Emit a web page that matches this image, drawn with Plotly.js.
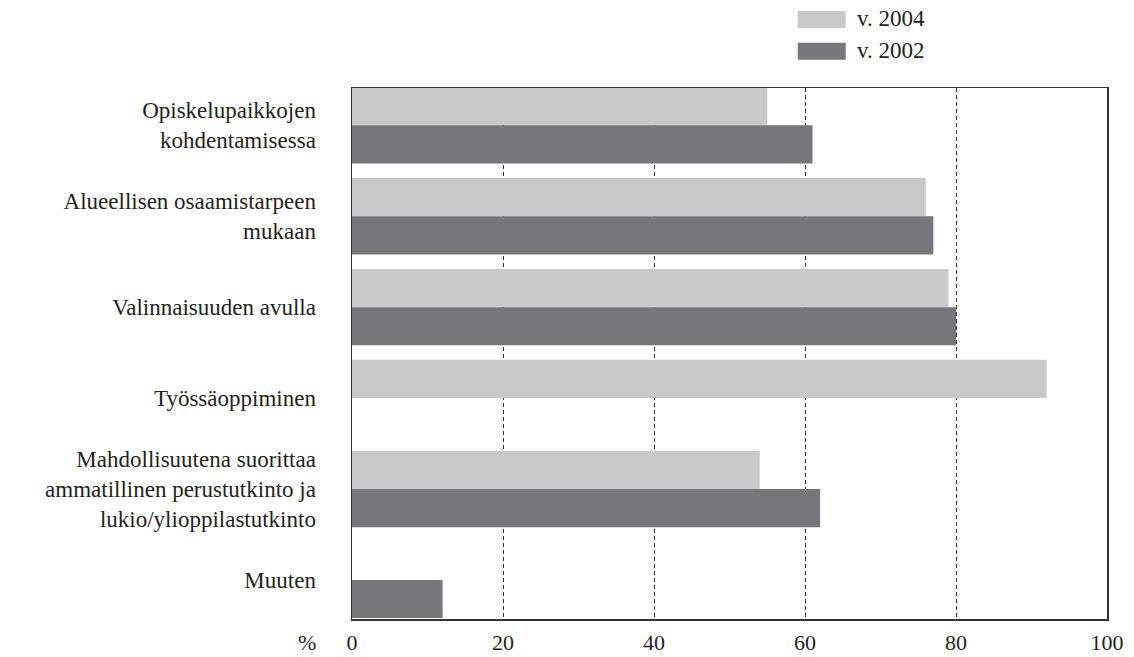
<!DOCTYPE html>
<html>
<head>
<meta charset="utf-8">
<script src="https://cdn.plot.ly/plotly-3.0.1.min.js"></script>
<style>html,body{margin:0;padding:0;background:#fff;}#chart{width:1134px;height:657px;}</style>
</head>
<body>
<div id="chart"></div>
<script>
const categories = [
  "Opiskelupaikkojen<br>kohdentamisessa",
  "Alueellisen osaamistarpeen<br>mukaan",
  "Valinnaisuuden avulla",
  "Työssäoppiminen",
  "Mahdollisuutena suorittaa<br>ammatillinen perustutkinto ja<br>lukio/ylioppilastutkinto",
  "Muuten"
];
const values2004 = [55, 76, 79, 92, 54, null];
const values2002 = [61, 77, 80, null, 62, 12];
const xTicks = [0, 20, 40, 60, 80, 100];
const seriesNames = ["v. 2004", "v. 2002"];
const colors = ["#c8c9cb", "#76777b"];

const font = "'Liberation Serif', 'Times New Roman', serif";
const fs = 23;
const fx = 22;

const traces = [
  {type: "bar", orientation: "h", name: seriesNames[0], y: categories, x: values2004,
   marker: {color: colors[0]}, hoverinfo: "x"},
  {type: "bar", orientation: "h", name: seriesNames[1], y: categories, x: values2002,
   marker: {color: colors[1]}, hoverinfo: "x"}
];

const layout = {
  width: 1134, height: 657,
  margin: {l: 352, r: 27, t: 88, b: 38},
  paper_bgcolor: "#fff", plot_bgcolor: "#fff",
  font: {family: font, size: fs, color: "#231f20"},
  barmode: "group",
  bargap: 0.16,
  bargroupgap: 0,
  showlegend: false,
  xaxis: {
    range: [0, 100], tickvals: xTicks, ticktext: xTicks.map(String),
    showgrid: true, gridcolor: "#333", gridwidth: 1, griddash: "4px,3px",
    zeroline: false, showline: true, mirror: true, linecolor: "#333", linewidth: 1.5,
    ticks: "", ticklabelstandoff: 3, tickfont: {size: fx, family: font}
  },
  yaxis: {
    type: "category", range: [5.43, -0.41],
    showgrid: false, zeroline: false, showline: true, mirror: true,
    linecolor: "#333", linewidth: 1.5, ticks: "", ticklabelstandoff: 30,
    tickfont: {size: fs, family: font}
  },
  shapes: [
    {type: "rect", xref: "paper", yref: "paper", x0: 0.5904, x1: 0.6539, y0: 1.113, y1: 1.145,
     fillcolor: colors[0], line: {width: 0}},
    {type: "rect", xref: "paper", yref: "paper", x0: 0.5904, x1: 0.6539, y0: 1.053, y1: 1.085,
     fillcolor: colors[1], line: {width: 0}}
  ],
  annotations: [
    {xref: "paper", yref: "paper", x: 0.6667, y: 1.130, xanchor: "left", yanchor: "middle",
     text: seriesNames[0], showarrow: false, font: {size: fs, family: font}},
    {xref: "paper", yref: "paper", x: 0.6667, y: 1.070, xanchor: "left", yanchor: "middle",
     text: seriesNames[1], showarrow: false, font: {size: fs, family: font}},
    {xref: "paper", yref: "paper", x: -0.059, y: -0.044, xanchor: "center", yanchor: "middle",
     text: "%", showarrow: false, font: {size: fx, family: font}}
  ]
};

Plotly.newPlot("chart", traces, layout, {displayModeBar: false, staticPlot: true});
</script>
</body>
</html>
